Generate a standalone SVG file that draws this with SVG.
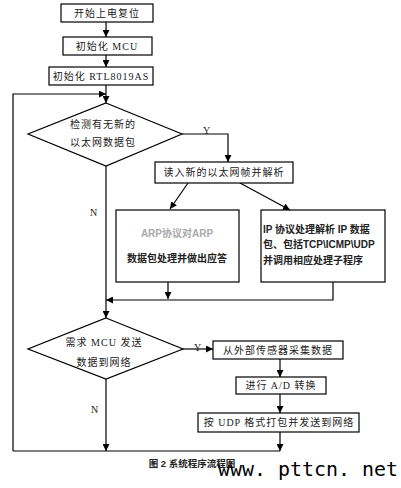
<svg xmlns="http://www.w3.org/2000/svg" width="401" height="488" viewBox="0 0 401 488">
<defs>
<marker id="ah" viewBox="0 0 10 10" refX="10" refY="5" markerWidth="7" markerHeight="7" orient="auto" markerUnits="userSpaceOnUse">
<path d="M0,0 L10,5 L0,10 Z" fill="#000"/>
</marker>
</defs>
<style>
.b{fill:#fff;stroke:#000;stroke-width:1.2}
.l{fill:none;stroke:#000;stroke-width:1.2}
.t{font-family:"Liberation Serif","Noto Sans CJK SC",serif;font-size:10px;fill:#222;letter-spacing:1px}
.s{font-family:"Liberation Sans","Noto Sans CJK SC",sans-serif;font-size:10px;fill:#222;font-weight:bold}
</style>
<rect width="401" height="488" fill="#fff"/>
<g id="connectors">
<path class="l" d="M106,22 V37" marker-end="url(#ah)"/>
<path class="l" d="M106,55 V67" marker-end="url(#ah)"/>
<path class="l" d="M106,85 V103" marker-end="url(#ah)"/>
<path class="l" d="M13,451 V94 H106" marker-end="url(#ah)"/>
<path class="l" d="M182,134 H228 V162" marker-end="url(#ah)"/>
<path class="l" d="M188,183 L170,209" marker-end="url(#ah)"/>
<path class="l" d="M240,183 L290,210" marker-end="url(#ah)"/>
<path class="l" d="M106,166 V318" marker-end="url(#ah)"/>
<path class="l" d="M168,282 V299" marker-end="url(#ah)"/>
<path class="l" d="M333,282 V300 H106" marker-end="url(#ah)"/>
<path class="l" d="M183,349 H213" marker-end="url(#ah)"/>
<path class="l" d="M280,359 V377" marker-end="url(#ah)"/>
<path class="l" d="M280,394 V413" marker-end="url(#ah)"/>
<path class="l" d="M280,432 V451" marker-end="url(#ah)"/>
<path class="l" d="M106,379 V451" marker-end="url(#ah)"/>
<path class="l" d="M13,451 H280"/>
<text x="207" y="134" class="t" text-anchor="middle">Y</text>
<text x="94" y="216" class="t" text-anchor="middle">N</text>
<text x="198" y="351" class="t" text-anchor="middle">Y</text>
<text x="95" y="413" class="t" text-anchor="middle">N</text>
</g>
<g id="start">
<rect class="b" x="61" y="4" width="92" height="18"/>
<text x="107" y="17" class="t" text-anchor="middle">开始上电复位</text>
</g>
<g id="initMCU">
<rect class="b" x="63" y="37" width="89" height="18"/>
<text x="107" y="50" class="t" text-anchor="middle">初始化 MCU</text>
</g>
<g id="initRTL">
<rect class="b" x="49" y="67" width="104" height="18"/>
<text x="101" y="80" class="t" text-anchor="middle">初始化 RTL8019AS</text>
</g>
<g id="check">
<polygon class="b" points="106,103 182,134 106,166 28,134"/>
<text x="103" y="128" class="t" text-anchor="middle">检测有无新的</text>
<text x="103" y="146" class="t" text-anchor="middle">以太网数据包</text>
</g>
<g id="read">
<rect class="b" x="155" y="162" width="138" height="21"/>
<text x="224" y="176" class="t" text-anchor="middle">读入新的以太网帧并解析</text>
</g>
<g id="arp">
<rect class="b" x="116" y="210" width="123" height="72"/>
<text x="177" y="237" class="s" text-anchor="middle" fill="#aaa" style="fill:#aaa">ARP协议对ARP</text>
<text x="177" y="262" class="s" text-anchor="middle">数据包处理并做出应答</text>
</g>
<g id="ip">
<rect class="b" x="261" y="210" width="124" height="72"/>
<text x="263" y="233" class="s">IP 协议处理解析 IP 数据</text>
<text x="263" y="248" class="s">包、包括TCP\ICMP\UDP</text>
<text x="263" y="264" class="s">并调用相应处理子程序</text>
</g>
<g id="send">
<polygon class="b" points="106,318 183,349 106,379 28,349"/>
<text x="104" y="346" class="t" text-anchor="middle">需求 MCU 发送</text>
<text x="104" y="366" class="t" text-anchor="middle">数据到网络</text>
</g>
<g id="collect">
<rect class="b" x="213" y="341" width="130" height="18"/>
<text x="278" y="354" class="t" text-anchor="middle">从外部传感器采集数据</text>
</g>
<g id="adc">
<rect class="b" x="236" y="377" width="90" height="17"/>
<text x="281" y="389" class="t" text-anchor="middle">进行 A/D 转换</text>
</g>
<g id="pack">
<rect class="b" x="198" y="413" width="161" height="19"/>
<text x="279" y="426" class="t" text-anchor="middle">按 UDP 格式打包并发送到网络</text>
</g>
<text x="192" y="467" class="s" text-anchor="middle" style="font-size:9.5px">图 2  系统程序流程图</text>
<text x="218" y="476" font-family="DejaVu Sans Mono, monospace" font-size="20" fill="#000" textLength="180" lengthAdjust="spacingAndGlyphs">www. pttcn. net</text>
</svg>
